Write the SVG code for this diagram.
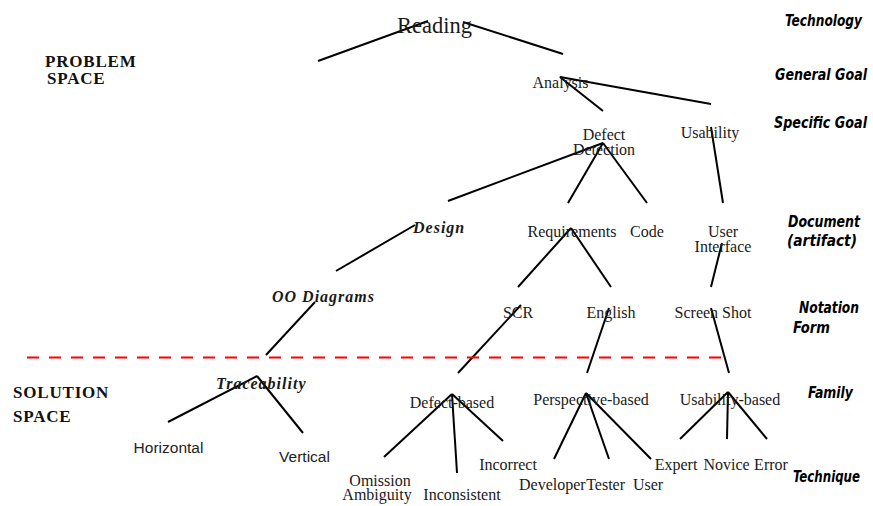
<svg xmlns="http://www.w3.org/2000/svg" width="873" height="506" viewBox="0 0 873 506">
<style>
.t{font-family:"Liberation Serif","Times New Roman",serif;font-size:16px;fill:#1a1a1a;text-anchor:middle}
.bi{font-family:"Liberation Serif","Times New Roman",serif;font-size:16px;font-weight:bold;font-style:italic;letter-spacing:1px;fill:#1a1a1a}
.s{font-family:"Liberation Sans",Arial,sans-serif;font-size:15.5px;fill:#222;text-anchor:middle}
.sp{font-family:"Liberation Serif","Times New Roman",serif;font-size:17px;font-weight:bold;letter-spacing:0.8px;fill:#111}
.lv{font-family:"DejaVu Sans Condensed","DejaVu Sans",sans-serif;font-stretch:condensed;font-size:16px;font-weight:bold;font-style:italic;fill:#000;text-anchor:end}
.c line{stroke:#000;stroke-width:2;fill:none}
.dash{stroke:#f00;stroke-width:2;stroke-dasharray:12 10;fill:none}
</style>
<rect width="873" height="506" fill="#fff"/>
<g id="connectors" class="c">
<line x1="428" y1="21" x2="318" y2="61"/>
<line x1="463" y1="22" x2="563" y2="54"/>
<line x1="560" y1="77" x2="603" y2="111"/>
<line x1="560" y1="77" x2="711" y2="104"/>
<line x1="711" y1="127" x2="723" y2="203"/>
<line x1="603" y1="143" x2="448" y2="201"/>
<line x1="603" y1="143" x2="568" y2="203"/>
<line x1="603" y1="143" x2="647" y2="203"/>
<line x1="415" y1="225" x2="336" y2="271"/>
<line x1="315" y1="302" x2="266" y2="355"/>
<line x1="571" y1="228" x2="518" y2="287"/>
<line x1="571" y1="228" x2="611" y2="287"/>
<line x1="722" y1="243" x2="711" y2="287"/>
<line x1="521" y1="305" x2="458" y2="373"/>
<line x1="609" y1="308" x2="587" y2="373"/>
<line x1="711" y1="308" x2="729" y2="373"/>
<line x1="257" y1="376" x2="168" y2="422"/>
<line x1="257" y1="376" x2="303" y2="433"/>
<line x1="452" y1="394" x2="384" y2="457"/>
<line x1="452" y1="394" x2="457" y2="473"/>
<line x1="452" y1="394" x2="503" y2="441"/>
<line x1="586" y1="393" x2="554" y2="459"/>
<line x1="586" y1="393" x2="609" y2="459"/>
<line x1="586" y1="393" x2="651" y2="459"/>
<line x1="728" y1="392" x2="680" y2="439"/>
<line x1="728" y1="392" x2="727" y2="439"/>
<line x1="728" y1="392" x2="767" y2="439"/>
</g>
<line id="divider" class="dash" x1="27" y1="357.5" x2="727" y2="357.5"/>
<g id="problem-space"><text class="sp" x="45" y="67">PROBLEM</text><text class="sp" x="47" y="84">SPACE</text></g>
<g id="solution-space"><text class="sp" x="13" y="398">SOLUTION</text><text class="sp" x="13" y="422">SPACE</text></g>
<g id="reading"><text class="t" x="434.5" y="33" style="font-size:22.5px">Reading</text></g>
<g id="analysis"><text class="t" x="560.5" y="88">Analysis</text></g>
<g id="defect-detection"><text class="t" x="604" y="140">Defect</text><text class="t" x="604" y="155">Detection</text></g>
<g id="usability"><text class="t" x="710" y="138">Usability</text></g>
<g id="design"><text class="bi" x="413" y="233">Design</text></g>
<g id="requirements"><text class="t" x="572" y="237">Requirements</text></g>
<g id="code"><text class="t" x="647" y="237">Code</text></g>
<g id="user-interface"><text class="t" x="723" y="237">User</text><text class="t" x="723" y="252">Interface</text></g>
<g id="oo-diagrams"><text class="bi" x="272" y="302">OO Diagrams</text></g>
<g id="scr"><text class="t" x="518" y="318">SCR</text></g>
<g id="english"><text class="t" x="611" y="318">English</text></g>
<g id="screen-shot"><text class="t" x="713" y="318">Screen Shot</text></g>
<g id="traceability"><text class="bi" x="216" y="389">Traceability</text></g>
<g id="defect-based"><text class="t" x="452" y="408">Defect-based</text></g>
<g id="perspective-based"><text class="t" x="591" y="405">Perspective-based</text></g>
<g id="usability-based"><text class="t" x="730" y="405">Usability-based</text></g>
<g id="horizontal"><text class="s" x="168.5" y="453">Horizontal</text></g>
<g id="vertical"><text class="s" x="304.5" y="462">Vertical</text></g>
<g id="omission"><text class="t" x="380" y="486">Omission</text></g>
<g id="ambiguity"><text class="t" x="377" y="500">Ambiguity</text></g>
<g id="inconsistent"><text class="t" x="462" y="500">Inconsistent</text></g>
<g id="incorrect"><text class="t" x="508" y="470">Incorrect</text></g>
<g id="developer"><text class="t" x="519" y="490" style="text-anchor:start">Developer</text></g>
<g id="tester"><text class="t" x="625" y="490" style="text-anchor:end">Tester</text></g>
<g id="user"><text class="t" x="648" y="490">User</text></g>
<g id="expert"><text class="t" x="676" y="470">Expert</text></g>
<g id="novice"><text class="t" x="726.5" y="470">Novice</text></g>
<g id="error"><text class="t" x="771" y="470">Error</text></g>
<g id="levels">
<text class="lv" x="862" y="26" textLength="77" lengthAdjust="spacingAndGlyphs">Technology</text>
<text class="lv" x="867" y="80" textLength="92" lengthAdjust="spacingAndGlyphs">General Goal</text>
<text class="lv" x="867" y="128" textLength="93" lengthAdjust="spacingAndGlyphs">Specific Goal</text>
<text class="lv" x="860" y="227" textLength="72" lengthAdjust="spacingAndGlyphs">Document</text>
<text class="lv" x="857" y="246" textLength="70" lengthAdjust="spacingAndGlyphs">(artifact)</text>
<text class="lv" x="859" y="313" textLength="60" lengthAdjust="spacingAndGlyphs">Notation</text>
<text class="lv" x="830" y="333" textLength="37" lengthAdjust="spacingAndGlyphs">Form</text>
<text class="lv" x="853" y="398" textLength="45" lengthAdjust="spacingAndGlyphs">Family</text>
<text class="lv" x="860" y="482" textLength="67" lengthAdjust="spacingAndGlyphs">Technique</text>
</g>
</svg>
